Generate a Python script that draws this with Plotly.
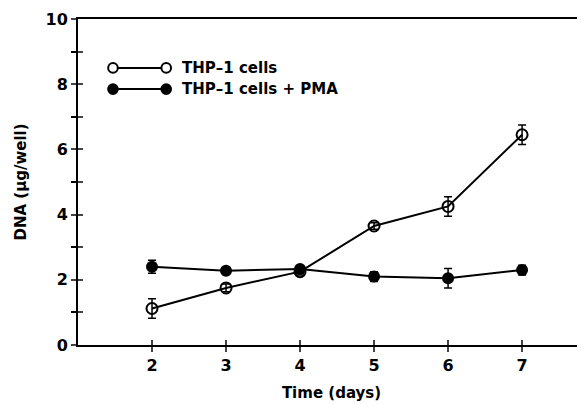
import plotly.graph_objects as go

days = [2, 3, 4, 5, 6, 7]
thp1 = [1.12, 1.75, 2.25, 3.65, 4.25, 6.45]
thp1_err = [0.3, 0.12, 0.1, 0.1, 0.3, 0.3]
thp1_pma = [2.4, 2.28, 2.33, 2.1, 2.05, 2.3]
thp1_pma_err = [0.2, 0.1, 0.1, 0.15, 0.3, 0.15]

legend_labels = ["THP\u20131 cells", "THP\u20131 cells + PMA"]
y_tick_vals = [0, 2, 4, 6, 8, 10]
x_tick_vals = [2, 3, 4, 5, 6, 7]

FONT = "DejaVu Sans"

fig = go.Figure()

fig.add_trace(go.Scatter(
    x=days, y=thp1_pma, mode="lines+markers",
    line=dict(color="black", width=2),
    marker=dict(symbol="circle", size=12, color="black"),
    error_y=dict(type="data", array=thp1_pma_err, color="black", thickness=1.5, width=4),
    showlegend=False,
))
fig.add_trace(go.Scatter(
    x=days, y=thp1, mode="lines+markers",
    line=dict(color="black", width=2),
    marker=dict(symbol="circle-open", size=11, color="black", line=dict(width=2)),
    error_y=dict(type="data", array=thp1_err, color="black", thickness=1.5, width=4),
    showlegend=False,
))

# legend samples (decoration, paper coordinates)
rows = [(0.850, False), (0.785, True)]
for (yp, filled), label in zip(rows, legend_labels):
    fig.add_shape(type="line", xref="paper", yref="paper", x0=0.075, x1=0.168, y0=yp, y1=yp,
                  line=dict(color="black", width=2))
    for xc in (0.069, 0.174):
        fig.add_shape(type="circle", xref="paper", yref="paper",
                      x0=xc - 0.0095, x1=xc + 0.0095, y0=yp - 0.0148, y1=yp + 0.0148,
                      line=dict(color="black", width=2),
                      fillcolor="black" if filled else "white")
    fig.add_annotation(x=0.202, y=yp, xref="paper", yref="paper", text=label, showarrow=False,
                       xanchor="left", yanchor="middle",
                       font=dict(family=FONT, size=15, color="black", weight="bold"))

fig.update_layout(
    width=577, height=396,
    margin=dict(l=70, r=0, t=11, b=59, autoexpand=False),
    paper_bgcolor="white", plot_bgcolor="white",
    font=dict(family=FONT, size=16, color="black", weight="bold"),
    xaxis=dict(range=[1, 7.85], tickvals=x_tick_vals, ticks="outside", ticklen=5, tickwidth=1.5,
               showline=True, linecolor="black", linewidth=2, mirror=True, showgrid=False,
               zeroline=False, automargin=False,
               title=dict(text="Time (days)", font=dict(family=FONT, size=15, weight="bold"), standoff=13)),
    yaxis=dict(range=[0, 10], tickvals=y_tick_vals, ticks="outside", ticklen=5, tickwidth=1.5,
               minor=dict(dtick=1, ticks="outside", ticklen=5, tickwidth=1.5, tickcolor="black"),
               showline=True, linecolor="black", linewidth=2, showgrid=False, zeroline=False,
               automargin=False,
               title=dict(text="DNA (\u00b5g/well)", font=dict(family=FONT, size=15, weight="bold"), standoff=15)),
    xaxis2=dict(overlaying="x", range=[1, 7.85], tickvals=x_tick_vals, ticks="inside", ticklen=5,
                tickwidth=1.5, showticklabels=False, showgrid=False, zeroline=False, side="bottom"),
    yaxis2=dict(overlaying="y", range=[0, 10], tickvals=list(range(0, 11)), ticks="inside", ticklen=5,
                tickwidth=1.5, showticklabels=False, showgrid=False, zeroline=False, side="left"),
)
# invisible trace to activate the overlay axes that draw the inner half of the ticks
fig.add_trace(go.Scatter(x=[days[0]], y=[thp1[0]], xaxis="x2", yaxis="y2", mode="markers",
                         marker=dict(opacity=0), showlegend=False, hoverinfo="skip"))

fig.write_html("out.html")
